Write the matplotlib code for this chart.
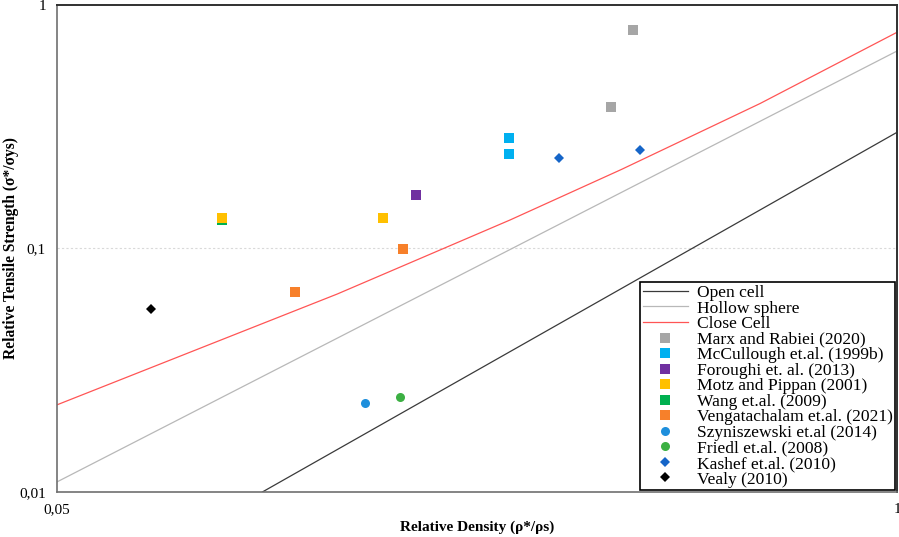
import matplotlib
matplotlib.use('Agg')
import matplotlib.pyplot as plt

plt.rcParams['font.family'] = ['Liberation Serif', 'DejaVu Serif']

# model curves
open_x = [0.104, 1.0]
open_y = [0.0100, 0.300]
hollow_x = [0.05, 1.0]
hollow_y = [0.0110, 0.647]
close_x = [0.05, 0.0824, 0.1358, 0.2515, 0.3746, 0.6136, 1.0]
close_y = [0.0228, 0.0385, 0.0650, 0.1309, 0.2114, 0.3939, 0.7725]

# experimental data
marx_x = [0.390, 0.361]
marx_y = [0.789, 0.381]
mccul_x = [0.251, 0.251]
mccul_y = [0.284, 0.244]
forou_x = [0.180]
forou_y = [0.166]
motz_x = [0.090, 0.160]
motz_y = [0.133, 0.133]
wang_x = [0.090]
wang_y = [0.131]
venga_x = [0.117, 0.172]
venga_y = [0.0663, 0.0995]
szyn_x = [0.150]
szyn_y = [0.0232]
friedl_x = [0.170]
friedl_y = [0.0246]
kashef_x = [0.300, 0.400]
kashef_y = [0.235, 0.254]
vealy_x = [0.070]
vealy_y = [0.0564]

fig = plt.figure(figsize=(8.99, 5.37), dpi=100)
ax = fig.add_axes([0.0634, 0.0838, 0.9344, 0.9069])

ax.plot(open_x, open_y, color='#3a3a3a', lw=0.9, label='Open cell')
ax.plot(hollow_x, hollow_y, color='#b8b8b8', lw=0.9, label='Hollow sphere')
ax.plot(close_x, close_y, color='#ff5555', lw=0.9, label='Close Cell')

sq = dict(marker='s', ms=7, ls='none', mew=0)
ax.plot(marx_x, marx_y, color='#a6a6a6', label='Marx and Rabiei (2020)', **sq)
ax.plot(mccul_x, mccul_y, color='#00b0f0', label='McCullough et.al. (1999b)', **sq)
ax.plot(forou_x, forou_y, color='#7030a0', label='Foroughi et. al. (2013)', **sq)
ax.plot(motz_x, motz_y, color='#ffc000', label='Motz and Pippan (2001)', zorder=3, **sq)
ax.plot(wang_x, wang_y, color='#00b050', label='Wang et.al. (2009)', zorder=2, **sq)
ax.plot(venga_x, venga_y, color='#f7802a', label='Vengatachalam et.al. (2021)', **sq)
ax.plot(szyn_x, szyn_y, color='#1e8fdc', marker='o', ms=6.5, ls='none', mew=0,
        label='Szyniszewski et.al (2014)')
ax.plot(friedl_x, friedl_y, color='#3cb043', marker='o', ms=6.5, ls='none', mew=0,
        label='Friedl et.al. (2008)')
ax.plot(kashef_x, kashef_y, color='#1565c8', marker='D', ms=5, ls='none', mew=0,
        label='Kashef et.al. (2010)')
ax.plot(vealy_x, vealy_y, color='black', marker='D', ms=5, ls='none', mew=0,
        label='Vealy (2010)')

ax.set_xscale('log')
ax.set_yscale('log')
ax.set_xlim(0.05, 1)
ax.set_ylim(0.01, 1)
ax.set_xticks([0.05, 1])
ax.set_xticklabels(['0,05', '1'])
ax.set_yticks([0.01, 0.1, 1])
ax.set_yticklabels(['0,01', '0,1', '1'])
ax.minorticks_off()
ax.tick_params(axis='both', length=0, labelsize=11)
ax.tick_params(axis='y', pad=8)
ax.tick_params(axis='x', pad=8)
ax.axhline(0.1, color='#d9d9d9', lw=0.8, ls=(0, (2, 2)), zorder=0)

for s in ['left', 'bottom']:
    ax.spines[s].set_color('#707070')
    ax.spines[s].set_linewidth(1.2)
for s in ['top', 'right']:
    ax.spines[s].set_color('#303030')
    ax.spines[s].set_linewidth(1.4)

ax.set_xlabel('Relative Density (ρ*/ρs)', fontsize=11, fontweight='bold', labelpad=3)
ax.set_ylabel('Relative Tensile Strength (σ*/σys)', fontsize=11.2, fontweight='bold')
ax.yaxis.set_label_coords(-0.045, 0.5)

leg = ax.legend(loc='lower right', fontsize=12.6, frameon=True, fancybox=False,
                edgecolor='black', framealpha=1, borderpad=0.15, labelspacing=-0.04,
                handlelength=2.6, handletextpad=0.5, borderaxespad=0.1)
leg.get_frame().set_linewidth(1.2)

fig.savefig('out.png', dpi=100)
